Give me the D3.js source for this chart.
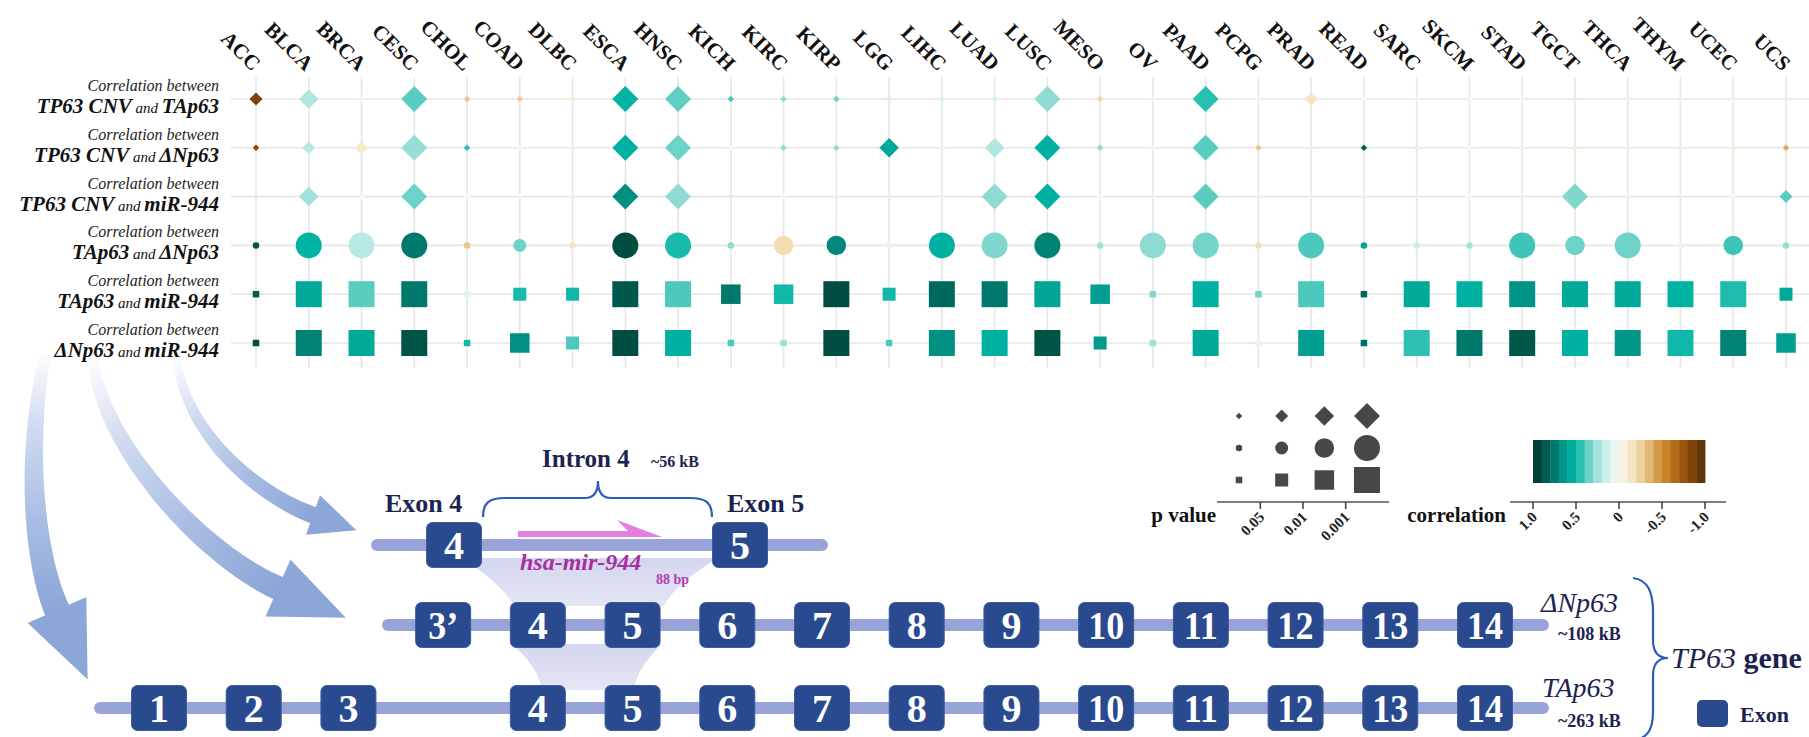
<!DOCTYPE html>
<html>
<head>
<meta charset="utf-8">
<script src="https://cdn.jsdelivr.net/npm/d3@7"></script>
<style>
  body { margin: 0; background: #ffffff; }
  svg { display: block; }
  text { font-family: "Liberation Serif", "Times New Roman", serif; }
</style>
</head>
<body>
<svg id="fig" width="1809" height="737"></svg>
<script>
// ---------------- data ----------------
const cancers = ["ACC","BLCA","BRCA","CESC","CHOL","COAD","DLBC","ESCA","HNSC","KICH",
  "KIRC","KIRP","LGG","LIHC","LUAD","LUSC","MESO","OV","PAAD","PCPG",
  "PRAD","READ","SARC","SKCM","STAD","TGCT","THCA","THYM","UCEC","UCS"];

// p-value level: 0 = n.s., 1 = p<0.05, 2 = p<0.01, 3 = p<0.001
const corrCnvTAp63   = [-0.85,0.22,0.03,0.38,-0.30,-0.28,-0.10,0.50,0.37,0.40,0.30,0.35,0.12,0.12,0.12,0.30,-0.22,0.02,0.45,0.03,-0.15,0.00,0.02,0.00,0.02,0.10,0.05,0.05,0.04,-0.08];
const pCnvTAp63      = [1,2,0,3,0,0,0,3,3,0,0,0,0,0,0,3,0,0,3,0,1,0,0,0,0,0,0,0,0,0];
const corrCnvDNp63   = [-0.80,0.20,-0.12,0.28,0.45,0.00,-0.08,0.52,0.35,0.00,0.30,0.30,0.58,-0.05,0.22,0.52,0.30,0.00,0.38,-0.30,-0.08,0.82,0.10,0.00,0.08,-0.10,-0.06,0.08,-0.10,-0.40];
const pCnvDNp63      = [0,1,1,3,0,0,0,3,3,0,0,0,2,0,2,3,0,0,3,0,0,0,0,0,0,0,0,0,0,0];
const corrCnvMiR944  = [0.10,0.25,0.00,0.35,0.00,0.00,-0.08,0.68,0.30,0.12,0.00,0.08,0.08,0.08,0.30,0.52,0.00,0.05,0.38,-0.08,-0.06,0.10,0.06,0.00,0.10,0.32,0.05,0.06,0.00,0.38];
const pCnvMiR944     = [0,2,0,3,0,0,0,3,3,0,0,0,0,0,3,3,0,0,3,0,0,0,0,0,0,3,0,0,0,1];
const corrTAp63DNp63 = [0.88,0.50,0.20,0.75,-0.30,0.35,-0.15,0.90,0.47,0.30,-0.20,0.70,0.05,0.52,0.32,0.72,0.25,0.30,0.34,-0.18,0.40,0.60,0.15,0.25,0.42,0.35,0.35,0.05,0.42,0.28];
const pTAp63DNp63    = [0,3,3,3,0,1,0,3,3,0,2,2,0,3,3,3,0,3,3,0,3,0,0,0,3,2,3,0,2,0];
const corrTAp63MiR   = [0.85,0.57,0.38,0.75,0.08,0.47,0.48,0.86,0.40,0.75,0.48,0.90,0.48,0.80,0.75,0.60,0.62,0.32,0.52,0.35,0.40,0.80,0.57,0.52,0.66,0.57,0.57,0.50,0.46,0.57];
const pTAp63MiR      = [0,3,3,3,0,1,1,3,3,2,2,3,1,3,3,3,2,0,3,0,3,0,3,3,3,3,3,3,3,1];
const corrDNp63MiR   = [0.90,0.72,0.57,0.88,0.48,0.68,0.40,0.90,0.52,0.40,0.26,0.90,0.40,0.68,0.52,0.88,0.64,0.26,0.57,0.06,0.62,0.78,0.44,0.75,0.86,0.52,0.65,0.48,0.72,0.62];
const pDNp63MiR      = [0,3,3,3,0,2,1,3,3,0,0,3,0,3,3,3,1,0,3,0,3,0,3,3,3,3,3,3,3,2];

const rowKeys   = ["cnvTA","cnvDN","cnvMiR","taDN","taMiR","dnMiR"];
const rowShapes = ["diamond","diamond","diamond","circle","square","square"];
const rowCorr   = [corrCnvTAp63, corrCnvDNp63, corrCnvMiR944, corrTAp63DNp63, corrTAp63MiR, corrDNp63MiR];
const rowP      = [pCnvTAp63, pCnvDNp63, pCnvMiR944, pTAp63DNp63, pTAp63MiR, pDNp63MiR];
const rowFirst  = ["TP63 CNV","TP63 CNV","TP63 CNV","TAp63","TAp63","ΔNp63"];
const rowSecond = ["TAp63","ΔNp63","miR-944","ΔNp63","miR-944","miR-944"];

const pLevels      = [0,1,2,3];
const pTickLabels  = ["0.05","0.01","0.001"];
const corrTicks    = [1,0.5,0,-0.5,-1];
const corrTickText = ["1.0","0.5","0","-0.5","-1.0"];

// gene structure: exon labels and their slot along the transcript
const taExons = ["1","2","3","4","5","6","7","8","9","10","11","12","13","14"];
const taSlots = [0,1,2,4,5,6,7,8,9,10,11,12,13,14];
const dnExons = ["3’","4","5","6","7","8","9","10","11","12","13","14"];
const dnSlots = [3,4,5,6,7,8,9,10,11,12,13,14];

// ---------------- scales ----------------
const svg = d3.select("#fig");
const defs = svg.append("defs");

const x = d3.scalePoint().domain(cancers).range([256, 1786]);
const y = d3.scalePoint().domain(rowKeys).range([99, 343]);
const size = d3.scaleLinear().domain([0, 3]).range([6.5, 26]);

const corrStops  = [1,0.9,0.8,0.7,0.6,0.5,0.4,0.3,0.2,0.1,0,-0.1,-0.2,-0.3,-0.4,-0.5,-0.6,-0.7,-0.8,-0.9,-1];
const corrColors = ["#00332a","#004d42","#00695d","#00897b","#00a596","#00b4a4","#4cc9bc","#8ddbd2","#b8e9e3","#ddf4f0",
                    "#f7f5ee","#f8ecd2","#f2ddb0","#e8c68a","#dcaa5e","#cf8c35","#c07820","#a85e10","#8c4a0a","#703c08","#543005"];
const color = d3.scaleLinear().domain(corrStops).range(corrColors).clamp(true);

function shapePath(shape, s) {
  const h = s / 2;
  if (shape === "diamond") return `M0,${-h}L${h},0L0,${h}L${-h},0Z`;
  if (shape === "square") return `M${-h},${-h}H${h}V${h}H${-h}Z`;
  return d3.arc()({innerRadius: 0, outerRadius: h, startAngle: 0, endAngle: 2 * Math.PI});
}

// ---------------- curved arrows (drawn first, underneath everything) ----------------
function bez(p, t) {
  const u = 1 - t;
  return [
    u*u*u*p[0][0] + 3*u*u*t*p[1][0] + 3*u*t*t*p[2][0] + t*t*t*p[3][0],
    u*u*u*p[0][1] + 3*u*u*t*p[1][1] + 3*u*t*t*p[2][1] + t*t*t*p[3][1]
  ];
}
function bezTan(p, t) {
  const u = 1 - t;
  const dx = 3*u*u*(p[1][0]-p[0][0]) + 6*u*t*(p[2][0]-p[1][0]) + 3*t*t*(p[3][0]-p[2][0]);
  const dy = 3*u*u*(p[1][1]-p[0][1]) + 6*u*t*(p[2][1]-p[1][1]) + 3*t*t*(p[3][1]-p[2][1]);
  const l = Math.hypot(dx, dy);
  return [dx / l, dy / l];
}
function arrowPath(p, w0, w1, headLen, headHalf) {
  const left = [], right = [];
  for (let i = 0; i <= 40; i++) {
    const t = i / 40, pt = bez(p, t), tg = bezTan(p, t);
    const w = (w0 + (w1 - w0) * Math.pow(t, 0.6)) / 2;
    left.push([pt[0] - tg[1] * w, pt[1] + tg[0] * w]);
    right.push([pt[0] + tg[1] * w, pt[1] - tg[0] * w]);
  }
  const e = p[3], tg = bezTan(p, 1);
  const tip = [e[0] + tg[0] * headLen, e[1] + tg[1] * headLen];
  const hl = [e[0] - tg[1] * headHalf, e[1] + tg[0] * headHalf];
  const hr = [e[0] + tg[1] * headHalf, e[1] - tg[0] * headHalf];
  const pts = left.concat([hl, tip, hr], right.reverse());
  return "M" + pts.map(q => q[0].toFixed(1) + "," + q[1].toFixed(1)).join("L") + "Z";
}
const arrows = [
  {id: "a1", p: [[176,352],[182,435],[262,497],[313,515]], w0: 6, w1: 17, hl: 46, hh: 21},
  {id: "a2", p: [[92,352],[98,445],[205,556],[278,588]],  w0: 8, w1: 24, hl: 74, hh: 31},
  {id: "a3", p: [[46,350],[24,455],[35,560],[57,610]],    w0: 9, w1: 26, hl: 76, hh: 32}
];
arrows.forEach(a => {
  const g = defs.append("linearGradient").attr("id", a.id)
    .attr("gradientUnits", "userSpaceOnUse")
    .attr("x1", a.p[0][0]).attr("y1", a.p[0][1])
    .attr("x2", a.p[3][0]).attr("y2", a.p[3][1]);
  g.append("stop").attr("offset", 0).attr("stop-color", "#ffffff");
  g.append("stop").attr("offset", 0.3).attr("stop-color", "#cfdaf0");
  g.append("stop").attr("offset", 0.65).attr("stop-color", "#a9bde3");
  g.append("stop").attr("offset", 1).attr("stop-color", "#8ba6d7");
  svg.append("path").attr("d", arrowPath(a.p, a.w0, a.w1, a.hl, a.hh))
    .attr("fill", `url(#${a.id})`);
});

// ---------------- dot matrix ----------------
const grid = svg.append("g");
grid.selectAll("line.h").data(rowKeys).join("line")
  .attr("x1", 231).attr("x2", 1809)
  .attr("y1", d => y(d)).attr("y2", d => y(d))
  .attr("stroke", "#e6e6e6").attr("stroke-width", 1.6);
grid.selectAll("line.v").data(cancers).join("line")
  .attr("x1", d => x(d)).attr("x2", d => x(d))
  .attr("y1", 77).attr("y2", 368)
  .attr("stroke", "#e6e6e6").attr("stroke-width", 1.6);

const cells = [];
rowKeys.forEach((k, i) => cancers.forEach((c, j) => cells.push({
  row: k, shape: rowShapes[i], cancer: c, r: rowCorr[i][j], p: rowP[i][j]
})));

svg.append("g").selectAll("path").data(cells).join("path")
  .attr("transform", d => `translate(${x(d.cancer)},${y(d.row)})`)
  .attr("d", d => shapePath(d.shape, size(d.p)))
  .attr("fill", d => color(d.r));

// column labels
svg.append("g").selectAll("text").data(cancers).join("text")
  .attr("transform", d => `translate(${x(d) - 4},72) rotate(45)`)
  .attr("text-anchor", "end")
  .attr("font-weight", "bold")
  .attr("font-size", 21)
  .attr("fill", "#111")
  .text(d => d);

// row labels
const rl = svg.append("g").selectAll("g").data(rowKeys).join("g")
  .attr("transform", d => `translate(219,${y(d)})`);
rl.append("text").attr("y", -8).attr("text-anchor", "end")
  .attr("font-style", "italic").attr("font-size", 16).attr("fill", "#222")
  .text("Correlation between");
const l2 = rl.append("text").attr("y", 14).attr("text-anchor", "end")
  .attr("font-style", "italic").attr("fill", "#111");
l2.append("tspan").attr("font-weight", "bold").attr("font-size", 21).text((d, i) => rowFirst[i]);
l2.append("tspan").attr("font-size", 15).text(" and ");
l2.append("tspan").attr("font-weight", "bold").attr("font-size", 21).text((d, i) => rowSecond[i]);

// ---------------- legends ----------------
const lg = svg.append("g");
const pCol = d3.scalePoint().domain(pLevels).range([1239, 1367]);
const legShapes = ["diamond","circle","square"];
const legRowY = d3.scalePoint().domain(legShapes).range([416, 480]);
legShapes.forEach(sh => {
  lg.append("g").selectAll("path").data(pLevels).join("path")
    .attr("transform", d => `translate(${pCol(d)},${legRowY(sh)})`)
    .attr("d", d => shapePath(sh, size(d)))
    .attr("fill", "#474747");
});
lg.append("line").attr("x1", 1217).attr("x2", 1389).attr("y1", 502).attr("y2", 502)
  .attr("stroke", "#555").attr("stroke-width", 1.6);
const pTickX = pTickLabels.map((t, i) => (pCol(pLevels[i]) + pCol(pLevels[i + 1])) / 2);
lg.selectAll("line.pt").data(pTickX).join("line")
  .attr("x1", d => d).attr("x2", d => d).attr("y1", 502).attr("y2", 509)
  .attr("stroke", "#444").attr("stroke-width", 1.6);
lg.selectAll("text.pt").data(pTickLabels).join("text")
  .attr("transform", (d, i) => `translate(${pTickX[i] + 5},518) rotate(-45)`)
  .attr("text-anchor", "end").attr("font-weight", "bold").attr("font-size", 15).attr("fill", "#222")
  .text(d => d);
lg.append("text").attr("x", 1216).attr("y", 522).attr("text-anchor", "end")
  .attr("font-weight", "bold").attr("font-size", 21).attr("fill", "#111").text("p value");

// correlation colour bar
const cx = d3.scaleLinear().domain([1, -1]).range([1533, 1705]);
const bands = d3.range(20).map(i => 1 - (i + 0.5) * 0.1);
lg.append("g").selectAll("rect").data(bands).join("rect")
  .attr("x", d => cx(d + 0.05)).attr("width", cx(0) - cx(0.1) + 0.4)
  .attr("y", 440).attr("height", 43)
  .attr("fill", d => color(d));
lg.append("line").attr("x1", 1510).attr("x2", 1726).attr("y1", 502).attr("y2", 502)
  .attr("stroke", "#555").attr("stroke-width", 1.6);
lg.selectAll("line.ct").data(corrTicks).join("line")
  .attr("x1", d => cx(d)).attr("x2", d => cx(d)).attr("y1", 502).attr("y2", 509)
  .attr("stroke", "#444").attr("stroke-width", 1.6);
lg.selectAll("text.ct").data(corrTicks).join("text")
  .attr("transform", d => `translate(${cx(d) + 5},518) rotate(-45)`)
  .attr("text-anchor", "end").attr("font-weight", "bold").attr("font-size", 15).attr("fill", "#222")
  .text((d, i) => corrTickText[i]);
lg.append("text").attr("x", 1506).attr("y", 522).attr("text-anchor", "end")
  .attr("font-weight", "bold").attr("font-size", 21).attr("fill", "#111").text("correlation");

// ---------------- gene structure ----------------
const gx = d3.scaleLinear().domain([0, 14]).range([159, 1485]);
const boxW = 55, boxH = 45;
const lineColor = "#98a4d8", exonColor = "#2a4a8f", navy = "#1c2350";

// shaded zoom funnels
const fg = defs.append("linearGradient").attr("id", "funnel").attr("x1", 0).attr("y1", 0).attr("x2", 0).attr("y2", 1);
fg.append("stop").attr("offset", 0).attr("stop-color", "#d3d7ef");
fg.append("stop").attr("offset", 1).attr("stop-color", "#e4e6f5");
svg.append("path")
  .attr("d", "M462,558 L718,558 C690,575 672,590 664,606 L514,606 C505,590 488,575 462,558 Z")
  .attr("fill", "url(#funnel)");
svg.append("path")
  .attr("d", "M512,644 L662,644 C645,660 636,675 634,690 L542,690 C540,675 530,660 512,644 Z")
  .attr("fill", "url(#funnel)");

// transcript backbones
const backbones = [
  {x1: 377, x2: 822, y: 545},
  {x1: 388, x2: 1543, y: 625},
  {x1: 100, x2: 1543, y: 708}
];
svg.append("g").selectAll("line").data(backbones).join("line")
  .attr("x1", d => d.x1).attr("x2", d => d.x2).attr("y1", d => d.y).attr("y2", d => d.y)
  .attr("stroke", lineColor).attr("stroke-width", 12).attr("stroke-linecap", "round");

function drawExons(labels, xs, cy) {
  const g = svg.append("g").selectAll("g").data(labels).join("g")
    .attr("transform", (d, i) => `translate(${xs[i]},${cy})`);
  g.append("rect").attr("x", -boxW / 2).attr("y", -boxH / 2).attr("width", boxW).attr("height", boxH)
    .attr("rx", 6).attr("fill", exonColor).attr("stroke", "#3c5ba0").attr("stroke-width", 1);
  g.append("text").attr("text-anchor", "middle").attr("dy", "0.34em")
    .attr("font-weight", "bold").attr("font-size", 40).attr("fill", "#ffffff")
    .attr("transform", d => d.length > 1 ? "scale(0.9,1)" : null)
    .text(d => d);
}
drawExons(["4", "5"], [454, 740], 545);
drawExons(dnExons, dnSlots.map(gx), 625);
drawExons(taExons, taSlots.map(gx), 708);

// intron 4 detail
svg.append("path")
  .attr("d", "M483,517 C483,502 490,498 505,498 L585,498 C594,498 598,492 598,481 C598,492 602,498 611,498 L690,498 C705,498 712,502 712,517")
  .attr("fill", "none").attr("stroke", "#2d5db5").attr("stroke-width", 2.2);
svg.append("text").attr("x", 542).attr("y", 467).attr("font-weight", "bold").attr("font-size", 25)
  .attr("fill", navy).text("Intron 4");
svg.append("text").attr("x", 651).attr("y", 467).attr("font-weight", "bold").attr("font-size", 16)
  .attr("fill", navy).text("~56 kB");
svg.append("text").attr("x", 385).attr("y", 512).attr("font-weight", "bold").attr("font-size", 26)
  .attr("fill", navy).text("Exon 4");
svg.append("text").attr("x", 727).attr("y", 512).attr("font-weight", "bold").attr("font-size", 26)
  .attr("fill", navy).text("Exon 5");
svg.append("path").attr("d", "M518,531 L628,531 L617,520 L662,537 L518,537 Z").attr("fill", "#e27fe0");
svg.append("text").attr("x", 520).attr("y", 570).attr("font-weight", "bold").attr("font-style", "italic")
  .attr("font-size", 24).attr("fill", "#a8309f").text("hsa-mir-944");
svg.append("text").attr("x", 656).attr("y", 584).attr("font-weight", "bold").attr("font-size", 14)
  .attr("fill", "#b040b0").text("88 bp");

// transcript labels
svg.append("text").attr("x", 1541).attr("y", 612).attr("font-style", "italic").attr("font-size", 28)
  .attr("fill", navy).text("ΔNp63");
svg.append("text").attr("x", 1558).attr("y", 640).attr("font-weight", "bold").attr("font-size", 18)
  .attr("fill", navy).text("~108 kB");
svg.append("text").attr("x", 1542).attr("y", 697).attr("font-style", "italic").attr("font-size", 28)
  .attr("fill", navy).text("TAp63");
svg.append("text").attr("x", 1558).attr("y", 727).attr("font-weight", "bold").attr("font-size", 18)
  .attr("fill", navy).text("~263 kB");
svg.append("path")
  .attr("d", "M1633,578 C1648,580 1653,592 1653,612 L1653,640 C1653,652 1658,658 1668,658 C1658,658 1653,664 1653,676 L1653,712 C1653,732 1646,738 1633,741")
  .attr("fill", "none").attr("stroke", "#2d5db5").attr("stroke-width", 2.2);
const gene = svg.append("text").attr("x", 1671).attr("y", 668).attr("font-size", 30).attr("fill", navy);
gene.append("tspan").attr("font-style", "italic").text("TP63");
gene.append("tspan").attr("font-weight", "bold").text(" gene");
svg.append("rect").attr("x", 1697).attr("y", 700).attr("width", 31).attr("height", 27).attr("rx", 5)
  .attr("fill", exonColor);
svg.append("text").attr("x", 1740).attr("y", 722).attr("font-weight", "bold").attr("font-size", 22)
  .attr("fill", navy).text("Exon");
</script>
</body>
</html>
